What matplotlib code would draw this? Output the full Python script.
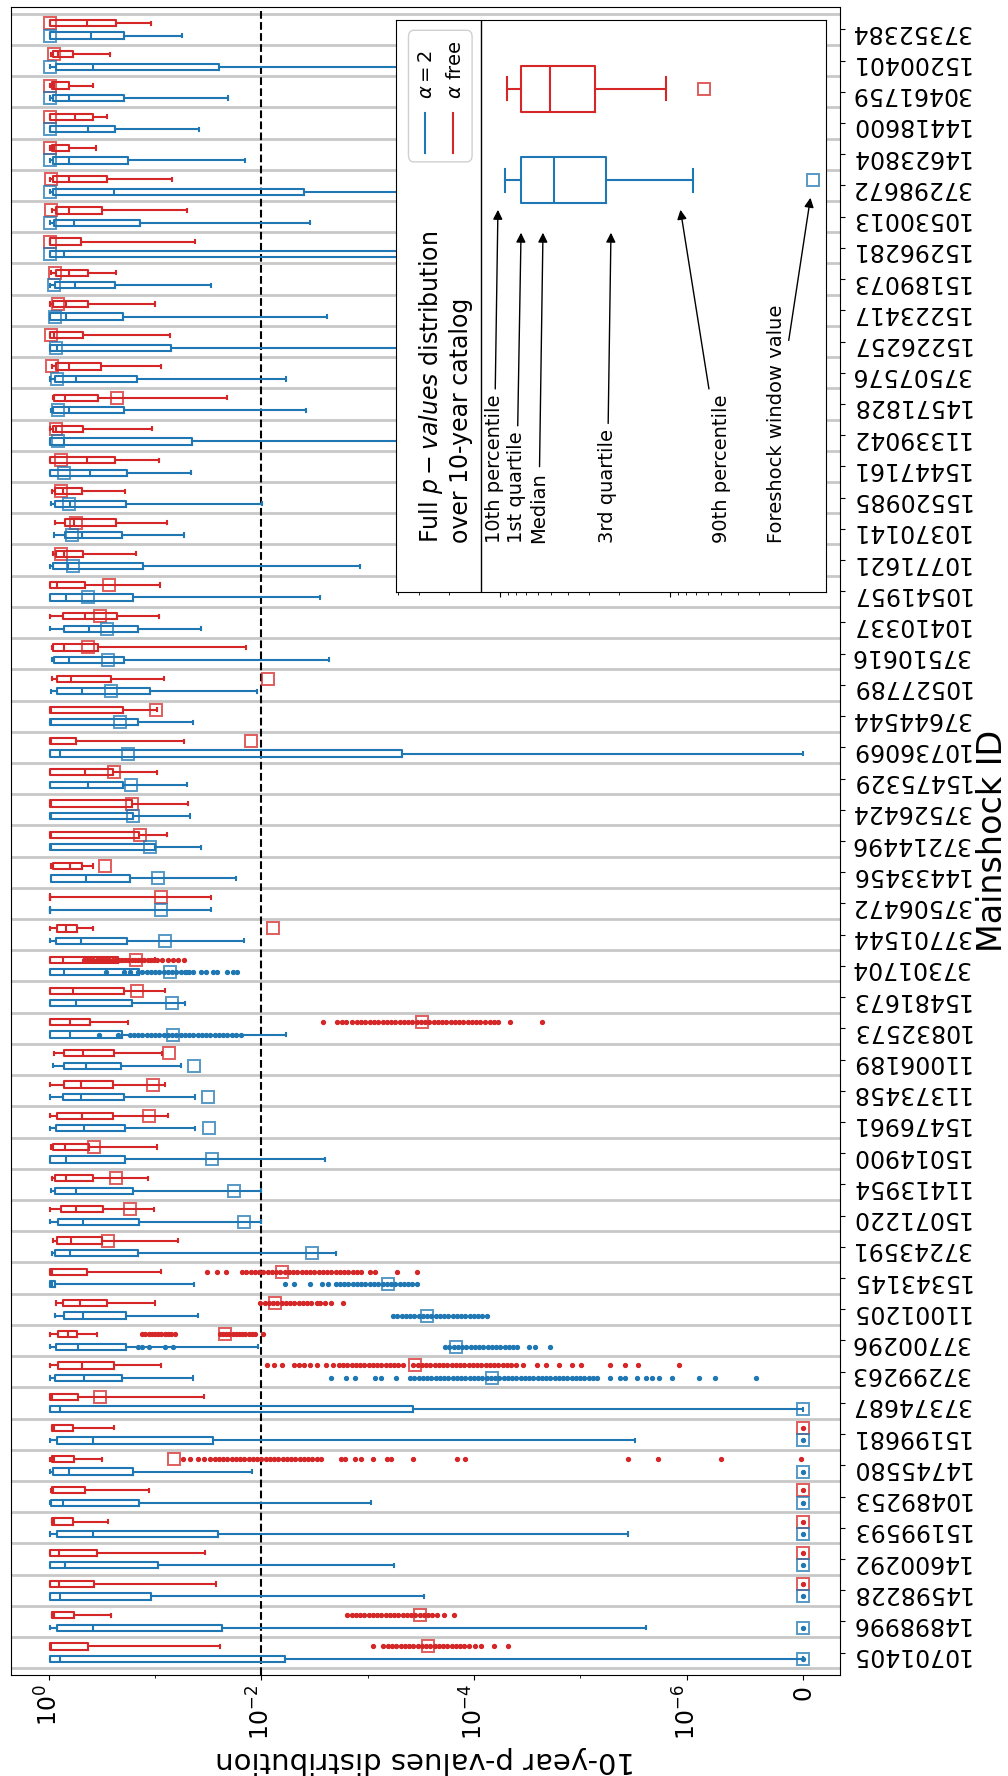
import numpy as np
import matplotlib
matplotlib.use('Agg')
import matplotlib.pyplot as plt
from matplotlib.patches import FancyBboxPatch
from matplotlib.lines import Line2D
from matplotlib.ticker import NullFormatter

# p = 0 is drawn at this log10 position and labelled "0"
LOG_ZERO = -7.1
Z = LOG_ZERO

# mainshock IDs, bottom row first
mainshock_ids = ['10701405', '14898996', '14598228', '14600292', '15199593', '10489253',
                 '14745580', '15199681', '37374687', '37299263', '37700296', '11001205',
                 '15343145', '37243591', '15071220', '11413954', '15014900', '15476961',
                 '11373458', '11006189', '10832573', '15481673', '37301704', '37701544',
                 '37506472', '14433456', '37214496', '37526424', '15475329', '10736069',
                 '37644544', '10527789', '37510616', '10410337', '10541957', '10771621',
                 '10370141', '15520985', '15447161', '11339042', '14571828', '37507576',
                 '15226257', '15223417', '15189073', '15296281', '10530013', '37298672',
                 '14623804', '14418600', '30461759', '15200401', '37352384']

# all values are log10(p)
# alpha free (red)
free_p90 = [-0.01, -0.03, -0.01, -0.01, -0.03, -0.02, -0.01, -0.03, -0.01, -0.01, -0.01, -0.07,
            -0.01, -0.04, -0.01, -0.03, -0.02, -0.01, -0.01, -0.05, -0.01, -0.01, -0.01, -0.01,
            -0.01, -0.02, -0.01, -0.01, -0.01, -0.01, -0.01, -0.03, -0.03, -0.01, -0.01, -0.04,
            -0.06, -0.03, -0.01, -0.01, -0.04, -0.03, -0.01, -0.01, -0.02, -0.01, -0.03, -0.01,
            -0.01, -0.01, -0.01, -0.02, -0.01]
free_q3 = [-0.01, -0.03, -0.01, -0.01, -0.03, -0.03, -0.03, -0.03, -0.01, -0.09, -0.09, -0.13,
           -0.01, -0.08, -0.12, -0.06, -0.04, -0.08, -0.14, -0.14, -0.01, -0.01, -0.01, -0.08,
           -0.01, -0.04, -0.01, -0.01, -0.01, -0.01, -0.01, -0.08, -0.04, -0.13, -0.01, -0.07,
           -0.15, -0.06, -0.01, -0.04, -0.05, -0.07, -0.01, -0.04, -0.07, -0.01, -0.07, -0.04,
           -0.03, -0.01, -0.03, -0.04, -0.01]
free_med = [-0.02, -0.05, -0.10, -0.10, -0.05, -0.04, -0.05, -0.05, -0.03, -0.31, -0.18, -0.29,
            -0.03, -0.21, -0.26, -0.16, -0.15, -0.31, -0.30, -0.32, -0.20, -0.23, -0.13, -0.16,
            -0.01, -0.20, -0.02, -0.02, -0.34, -0.02, -0.02, -0.21, -0.14, -0.34, -0.08, -0.14,
            -0.24, -0.13, -0.36, -0.07, -0.15, -0.19, -0.05, -0.16, -0.19, -0.01, -0.19, -0.19,
            -0.05, -0.25, -0.05, -0.09, -0.36]
free_q1 = [-0.37, -0.24, -0.43, -0.45, -0.23, -0.34, -0.24, -0.23, -0.28, -0.61, -0.27, -0.55,
           -0.36, -0.50, -0.51, -0.42, -0.38, -0.60, -0.60, -0.61, -0.39, -0.71, -0.65, -0.27,
           -0.01, -0.31, -0.85, -0.78, -0.60, -0.26, -0.70, -0.59, -0.46, -0.64, -0.34, -0.32,
           -0.63, -0.31, -0.62, -0.32, -0.46, -0.49, -0.32, -0.37, -0.37, -0.30, -0.50, -0.55,
           -0.19, -0.42, -0.19, -0.23, -0.63]
free_p10 = [-1.61, -0.59, -1.57, -1.47, -0.56, -0.94, -0.50, -0.61, -1.46, -1.06, -0.45, -1.00,
            -1.06, -1.22, -0.99, -0.93, -1.02, -1.12, -1.09, -1.07, -0.75, -1.09, -1.00, -0.42,
            -1.53, -0.42, -1.11, -1.31, -1.02, -1.27, -1.02, -1.08, -1.86, -1.04, -1.05, -0.82,
            -1.11, -0.72, -1.04, -0.97, -1.68, -1.06, -1.14, -1.00, -0.63, -1.38, -1.30, -1.16,
            -0.44, -0.55, -0.42, -0.58, -0.96]
free_window = [-3.57, -3.49, Z, Z, Z, Z, -1.18, Z, -0.48, -3.45, -1.66, -2.13,
               -2.19, -0.56, -0.76, -0.63, -0.43, -0.94, -0.98, -1.13, -3.51, -0.83, -0.82, -2.11,
               -1.06, -0.53, -0.86, -0.78, -0.61, -1.90, -1.01, -2.06, -0.37, -0.48, -0.57, -0.12,
               -0.26, -0.12, -0.12, -0.07, -0.64, -0.03, -0.02, -0.09, -0.06, -0.01, -0.02, -0.02,
               -0.01, -0.01, -0.01, -0.05, -0.01]

# alpha = 2 (blue)
a2_p90 = [-0.01, -0.01, -0.01, -0.01, -0.01, -0.01, -0.01, -0.01, -0.01, -0.01, -0.01, -0.06,
          -0.01, -0.03, -0.01, -0.02, -0.01, -0.01, -0.01, -0.04, -0.01, -0.01, -0.01, -0.01,
          -0.01, -0.02, -0.01, -0.01, -0.01, -0.01, -0.01, -0.02, -0.03, -0.01, -0.01, -0.01,
          -0.05, -0.02, -0.01, -0.01, -0.02, -0.01, -0.01, -0.01, -0.01, -0.01, -0.01, -0.01,
          -0.01, -0.01, -0.01, -0.01, -0.01]
a2_q3 = [-0.01, -0.08, -0.01, -0.01, -0.08, -0.02, -0.04, -0.08, -0.01, -0.06, -0.07, -0.14,
         -0.01, -0.06, -0.09, -0.06, -0.01, -0.07, -0.13, -0.14, -0.01, -0.01, -0.01, -0.07,
         -0.01, -0.02, -0.01, -0.01, -0.01, -0.01, -0.01, -0.08, -0.05, -0.14, -0.01, -0.04,
         -0.15, -0.06, -0.01, -0.01, -0.04, -0.06, -0.01, -0.01, -0.06, -0.01, -0.05, -0.04,
         -0.04, -0.01, -0.04, -0.07, -0.01]
a2_med = [-0.11, -0.42, -0.11, -0.15, -0.42, -0.13, -0.19, -0.42, -0.11, -0.33, -0.28, -0.32,
          -0.03, -0.20, -0.32, -0.26, -0.16, -0.33, -0.30, -0.35, -0.20, -0.26, -0.14, -0.30,
          -0.01, -0.35, -0.02, -0.02, -0.37, -0.11, -0.02, -0.31, -0.19, -0.38, -0.16, -0.18,
          -0.31, -0.20, -0.39, -0.14, -0.19, -0.26, -0.08, -0.16, -0.25, -0.14, -0.24, -0.61,
          -0.19, -0.37, -0.19, -0.42, -0.40]
a2_q1 = [-2.22, -1.63, -0.96, -1.03, -1.59, -0.85, -0.79, -1.55, -3.43, -0.69, -0.73, -0.73,
         -0.06, -0.84, -0.85, -0.79, -0.72, -0.72, -0.71, -0.68, -0.69, -0.78, -0.85, -0.74,
         -0.01, -0.76, -1.00, -0.79, -0.70, -3.32, -0.84, -0.95, -0.71, -0.84, -0.79, -0.89,
         -0.69, -0.73, -0.74, -1.35, -0.71, -0.83, -1.15, -0.70, -0.62, -4.50, -0.86, -2.40,
         -0.75, -0.62, -0.71, -1.60, -0.71]
a2_p10 = [Z, -5.62, -3.53, -3.25, -5.45, -3.03, -1.91, -5.52, Z, -1.36, -1.97, -1.40,
          -1.37, -2.70, -2.00, -2.00, -2.60, -1.38, -1.38, -1.24, -2.23, -1.28, -1.30, -1.84,
          -1.53, -1.76, -1.43, -1.33, -1.30, Z, -1.36, -1.96, -2.64, -1.43, -2.55, -2.93,
          -1.27, -2.01, -1.34, -4.00, -2.42, -2.23, -4.00, -2.62, -1.53, -6.50, -2.46, -5.00,
          -1.85, -1.41, -1.69, -5.00, -1.25]
a2_window = [Z, Z, Z, Z, Z, Z, Z, Z, Z, -4.17, -3.83, -3.56,
             -3.19, -2.48, -1.84, -1.74, -1.54, -1.51, -1.50, -1.37, -1.17, -1.16, -1.14, -1.09,
             -1.06, -1.03, -0.95, -0.79, -0.77, -0.75, -0.67, -0.59, -0.56, -0.55, -0.37, -0.23,
             -0.22, -0.19, -0.14, -0.09, -0.09, -0.08, -0.07, -0.06, -0.05, -0.01, -0.01, -0.01,
             -0.01, -0.01, -0.01, -0.01, -0.01]

# single values drawn as dots
free_dots = {
    '10701405': [-3.05, -3.14, -3.19, -3.23, -3.27, -3.31, -3.35, -3.39, -3.43, -3.47, -3.51, -3.55,
                 -3.59, -3.63, -3.67, -3.71, -3.75, -3.79, -3.83, -3.87, -3.91, -3.95, -4.01, -4.07,
                 -4.19, -4.32],
    '14898996': [-2.81, -2.85, -2.89, -2.93, -2.97, -3.01, -3.05, -3.09, -3.13, -3.17, -3.21, -3.25,
                 -3.29, -3.33, -3.37, -3.41, -3.45, -3.49, -3.53, -3.57, -3.61, -3.65, -3.72, -3.81],
    '14598228': [Z],
    '14600292': [Z],
    '15199593': [Z],
    '10489253': [Z],
    '14745580': [-1.26, -1.33, -1.40, -1.46, -1.52, -1.56, -1.60, -1.64, -1.68, -1.72, -1.76, -1.80,
                 -1.84, -1.88, -1.92, -1.96, -2.00, -2.04, -2.08, -2.12, -2.16, -2.20, -2.24, -2.28,
                 -2.32, -2.36, -2.40, -2.44, -2.48, -2.52, -2.56, -2.75, -2.79, -2.88, -2.94, -3.05,
                 -3.18, -3.22, -3.43, -3.84, -3.92, -5.45, -5.73, -6.32, -7.08],
    '15199681': [Z],
    '37299263': [-2.05, -2.12, -2.19, -2.31, -2.35, -2.40, -2.46, -2.52, -2.61, -2.67, -2.73, -2.77,
                 -2.81, -2.85, -2.89, -2.93, -2.97, -3.01, -3.05, -3.09, -3.13, -3.17, -3.21, -3.25,
                 -3.29, -3.33, -3.43, -3.47, -3.51, -3.55, -3.59, -3.63, -3.67, -3.71, -3.75, -3.79,
                 -3.83, -3.87, -3.91, -3.95, -3.99, -4.03, -4.07, -4.11, -4.15, -4.19, -4.23, -4.27,
                 -4.31, -4.35, -4.40, -4.46, -4.59, -4.68, -4.80, -4.92, -5.01, -5.28, -5.42, -5.54,
                 -5.93],
    '37700296': [-0.88, -0.91, -0.94, -0.97, -1.00, -1.03, -1.06, -1.09, -1.12, -1.15, -1.19, -1.61,
                 -1.64, -1.67, -1.70, -1.73, -1.76, -1.79, -1.82, -1.85, -1.88, -1.91, -1.94, -2.02],
    '11001205': [-1.99, -2.03, -2.07, -2.11, -2.15, -2.19, -2.23, -2.27, -2.31, -2.35, -2.39, -2.43,
                 -2.47, -2.52, -2.55, -2.60, -2.66, -2.77],
    '15343145': [-1.49, -1.58, -1.67, -1.82, -1.86, -1.90, -1.94, -1.98, -2.02, -2.06, -2.10, -2.14,
                 -2.18, -2.22, -2.26, -2.30, -2.34, -2.38, -2.42, -2.46, -2.50, -2.54, -2.58, -2.62,
                 -2.66, -2.70, -2.74, -2.78, -2.82, -2.86, -2.90, -2.94, -3.02, -3.07, -3.28, -3.46],
    '10832573': [-2.58, -2.71, -2.76, -2.80, -2.85, -2.90, -2.94, -2.98, -3.02, -3.06, -3.10, -3.14,
                 -3.18, -3.22, -3.26, -3.30, -3.34, -3.38, -3.42, -3.46, -3.50, -3.54, -3.58, -3.62,
                 -3.66, -3.70, -3.74, -3.78, -3.82, -3.86, -3.90, -3.94, -3.98, -4.02, -4.06, -4.10,
                 -4.15, -4.19, -4.23, -4.34, -4.64],
    '37301704': [-0.33, -0.36, -0.39, -0.42, -0.45, -0.48, -0.51, -0.54, -0.57, -0.60, -0.63, -0.66,
                 -0.69, -0.72, -0.75, -0.78, -0.81, -0.84, -0.87, -0.90, -0.93, -0.96, -0.99, -1.02,
                 -1.07, -1.12, -1.17, -1.22, -1.27],
}
a2_dots = {
    '10701405': [Z],
    '14898996': [Z],
    '14598228': [Z],
    '14600292': [Z],
    '15199593': [Z],
    '10489253': [Z],
    '14745580': [Z],
    '15199681': [Z],
    '37299263': [-2.66, -2.80, -2.88, -3.07, -3.13, -3.27, -3.40, -3.44, -3.48, -3.52, -3.56, -3.60,
                 -3.64, -3.68, -3.72, -3.76, -3.80, -3.84, -3.88, -3.92, -3.96, -4.00, -4.04, -4.08,
                 -4.12, -4.16, -4.20, -4.24, -4.28, -4.32, -4.36, -4.40, -4.44, -4.48, -4.52, -4.56,
                 -4.60, -4.64, -4.68, -4.72, -4.76, -4.80, -4.84, -4.88, -4.92, -4.96, -5.00, -5.04,
                 -5.08, -5.12, -5.16, -5.28, -5.37, -5.42, -5.53, -5.62, -5.68, -5.74, -5.86, -6.12,
                 -6.27, -6.65],
    '37700296': [-0.84, -0.88, -0.94, -1.09, -1.17, -3.73, -3.77, -3.81, -3.85, -3.89, -3.93, -3.97,
                 -4.01, -4.05, -4.09, -4.13, -4.17, -4.21, -4.25, -4.29, -4.33, -4.37, -4.41, -4.52,
                 -4.57, -4.72],
    '11001205': [-3.24, -3.28, -3.32, -3.36, -3.40, -3.44, -3.48, -3.52, -3.56, -3.60, -3.64, -3.68,
                 -3.72, -3.76, -3.80, -3.84, -3.88, -3.92, -3.96, -4.00, -4.04, -4.08, -4.12],
    '15343145': [-2.22, -2.31, -2.46, -2.57, -2.63, -2.70, -2.74, -2.78, -2.82, -2.86, -2.90, -2.94,
                 -2.98, -3.02, -3.06, -3.10, -3.14, -3.18, -3.22, -3.26, -3.30, -3.34, -3.38, -3.42,
                 -3.46],
    '10832573': [-0.47, -0.65, -0.76, -0.80, -0.84, -0.88, -0.92, -0.96, -1.00, -1.04, -1.08, -1.12,
                 -1.16, -1.20, -1.24, -1.28, -1.32, -1.36, -1.40, -1.44, -1.48, -1.52, -1.56, -1.60,
                 -1.64, -1.68, -1.72, -1.76, -1.81],
    '37301704': [-0.54, -0.71, -0.76, -0.84, -0.88, -0.92, -0.96, -1.00, -1.04, -1.08, -1.12, -1.16,
                 -1.20, -1.24, -1.28, -1.32, -1.36, -1.43, -1.48, -1.55, -1.58, -1.68, -1.73, -1.77],
}

# the explanatory box in the corner (log10 values on its own axis)
key_free = [-0.041, -0.121, -0.293, -0.56, -0.974]
key_free_window = -1.2
key_a2 = [-0.032, -0.121, -0.315, -0.624, -1.136]
key_a2_window = -1.843

BLUE = '#1f77b4'
RED = '#d62728'


def pv(e):
    return 10.0 ** np.asarray(e, dtype=float)


def draw_series(ax, p90, q3, med, q1, p10, window, dots, color, offset, width):
    pos = np.arange(1, len(mainshock_ids) + 1) + offset
    stats = []
    for i, mid in enumerate(mainshock_ids):
        stats.append(dict(whishi=pv(p90[i]), q3=pv(q3[i]), med=pv(med[i]), q1=pv(q1[i]),
                          whislo=pv(p10[i]), fliers=pv(dots.get(mid, []))))
    line = dict(color=color, linewidth=1.5)
    ax.bxp(stats, positions=pos, widths=width, orientation='horizontal', manage_ticks=False,
           boxprops=line, whiskerprops=line, capprops=line, medianprops=line,
           flierprops=dict(marker='o', markersize=2.8, markerfacecolor=color,
                           markeredgecolor=color, linestyle='none'))
    ax.plot(pv(window), pos, linestyle='none', marker='s', markersize=8.7,
            markerfacecolor='none', markeredgecolor=color, markeredgewidth=1.4, alpha=0.75)


fig = plt.figure(figsize=(10.08, 17.76), dpi=100)
ax = fig.add_axes([11 / 1008, 1 - 1675 / 1776, 829 / 1008, 1668 / 1776])
ax.set_xscale('log')

draw_series(ax, free_p90, free_q3, free_med, free_q1, free_p10, free_window, free_dots, RED, 0.2, 0.2)
draw_series(ax, a2_p90, a2_q3, a2_med, a2_q1, a2_p10, a2_window, a2_dots, BLUE, -0.2, 0.2)

ax.axvline(1e-2, color='black', linestyle='--', linewidth=1.5, zorder=1)

n = len(mainshock_ids)
ax.set_xlim(10 ** 0.355, 10 ** -7.444)
ax.set_ylim(0.285, n + 0.715)

ax.set_xticks(pv([0, -2, -4, -6, LOG_ZERO]))
ax.set_xticklabels(['$10^0$', '$10^{-2}$', '$10^{-4}$', '$10^{-6}$', '0'], rotation=90, fontsize=17)
ax.set_xticks(pv([-1, -3, -5]), minor=True)
ax.xaxis.set_minor_formatter(NullFormatter())

ax.set_yticks(np.arange(1, n + 1))
ax.set_yticklabels(mainshock_ids, rotation=180, fontsize=17)
ax.set_yticks(np.arange(0.5, n + 1, 1.0), minor=True)
ax.yaxis.tick_right()
ax.tick_params(axis='y', which='minor', length=0)
ax.grid(axis='y', which='minor', color='#c8c8c8', linewidth=2)
ax.set_axisbelow(True)

ax.set_xlabel('10-year p-values distribution', rotation=180, fontsize=21)
ax.yaxis.set_label_position('right')
ax.set_ylabel('Mainshock ID', rotation=90, fontsize=24)

# ---- explanatory inset
ins = fig.add_axes([396 / 1008, 1 - 592 / 1776, 430 / 1008, 572 / 1776])
ins.set_xscale('log')
ins.set_xlim(10 ** 0.612, 10 ** -1.918)
ins.set_ylim(0, 1)
ins.set_yticks([])
ins.tick_params(axis='x', which='both', labelbottom=False)
ins.axvline(10 ** 0.112, color='black', linewidth=1)

for vals, wv, color, ypos in ((key_free, key_free_window, RED, 0.88),
                              (key_a2, key_a2_window, BLUE, 0.72)):
    st = dict(whishi=pv(vals[0]), q3=pv(vals[1]), med=pv(vals[2]), q1=pv(vals[3]),
              whislo=pv(vals[4]), fliers=[])
    line = dict(color=color, linewidth=1.5)
    ins.bxp([st], positions=[ypos], widths=0.08, orientation='horizontal', manage_ticks=False,
            boxprops=line, whiskerprops=line, capprops=line, medianprops=line)
    ins.plot(pv(wv), ypos, linestyle='none', marker='s', markersize=8.7, markerfacecolor='none',
             markeredgecolor=color, markeredgewidth=1.4, alpha=0.75)

ins.text(0.114, 0.0857, 'Full $p-values$ distribution\nover 10-year catalog', rotation=90,
         ha='center', va='bottom', multialignment='left', fontsize=17, transform=ins.transAxes)

notes = [('10th percentile', 0.035, 0.012, 0.673),
         ('1st quartile', -0.098, -0.124, 0.633),
         ('Median', -0.229, -0.253, 0.633),
         ('3rd quartile', -0.631, -0.653, 0.633),
         ('90th percentile', -1.304, -1.059, 0.673),
         ('Foreshock window value', -1.624, -1.829, 0.694)]
for label, xt, xa, ya in notes:
    ins.annotate(label, xy=(pv(xa), ya), xytext=(pv(xt), 0.0857), rotation=90, ha='center',
                 va='bottom', fontsize=14,
                 arrowprops=dict(arrowstyle='-|>', color='black', linewidth=1))

# hand-made legend, turned like the rest of the figure
ins.add_patch(FancyBboxPatch((0.029, 0.752), 0.148, 0.23, boxstyle='round,pad=0,rounding_size=0.012',
                             transform=ins.transAxes, edgecolor='#d0d0d0', facecolor='white',
                             linewidth=1, zorder=3))
for xl, color, lab in ((0.067, BLUE, r'$\alpha = 2$'), (0.1337, RED, r'$\alpha$ free')):
    ins.add_line(Line2D([xl, xl], [0.7675, 0.8374], color=color, linewidth=1.5,
                        transform=ins.transAxes, zorder=4))
    ins.text(xl + 0.004, 0.862, lab, rotation=90, ha='center', va='bottom', fontsize=14,
             transform=ins.transAxes, zorder=4)

fig.savefig('out.png', dpi=100)
